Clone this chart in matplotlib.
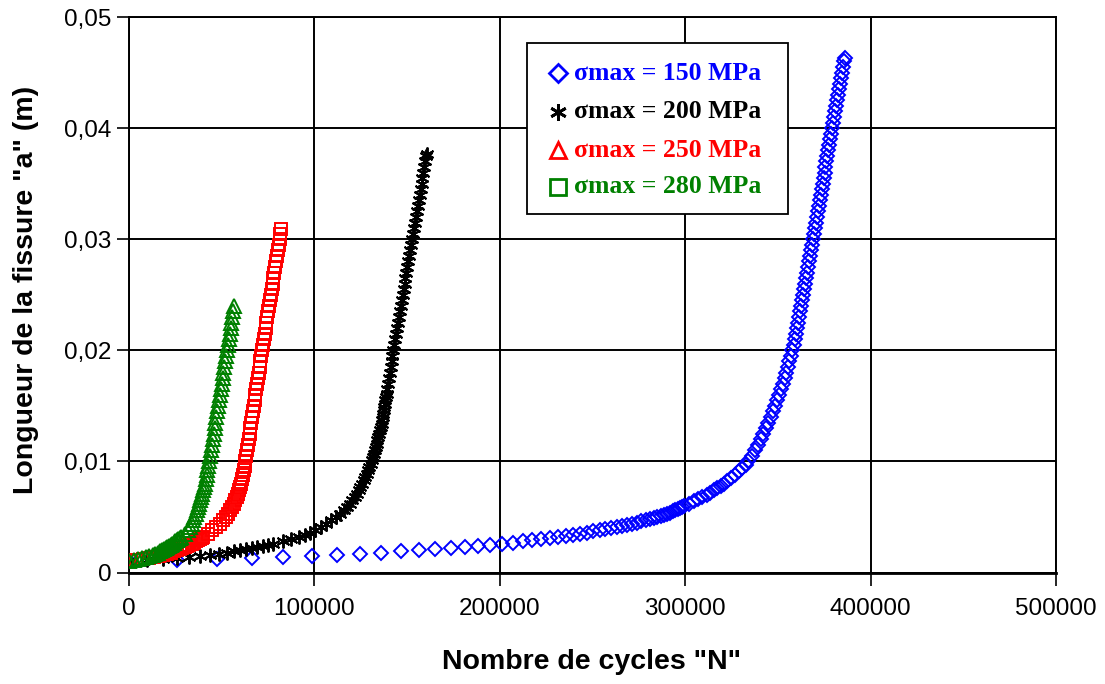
import matplotlib
matplotlib.use("Agg")
import matplotlib.pyplot as plt
import matplotlib.patches as patches
from matplotlib.ticker import FuncFormatter

# crack length a (m) vs number of cycles N
a_150 = [0.0010, 0.0011, 0.0012, 0.0013, 0.0014, 0.0015, 0.0016, 0.0017, 0.0018, 0.0019,
         0.0020, 0.0021, 0.0022, 0.0023, 0.0024, 0.0025, 0.0026, 0.0027, 0.0028, 0.0029,
         0.0030, 0.0031, 0.0032, 0.0033, 0.0034, 0.0035, 0.0036, 0.0037, 0.0038, 0.0039,
         0.0040, 0.0041, 0.0042, 0.0043, 0.0044, 0.0045, 0.0046, 0.0047, 0.0048, 0.0049,
         0.0050, 0.0051, 0.0052, 0.0053, 0.0054, 0.0055, 0.0056, 0.0057, 0.0058, 0.0059,
         0.0060, 0.0062, 0.0064, 0.0066, 0.0068, 0.0070, 0.0072, 0.0074, 0.0076, 0.0078,
         0.0080, 0.0082, 0.0085, 0.0088, 0.0091, 0.0094, 0.0097, 0.0100,
         0.0105, 0.0110, 0.0115, 0.0120, 0.0125, 0.0130, 0.0135, 0.0140, 0.0145, 0.0150,
         0.0155, 0.0160, 0.0165, 0.0170, 0.0175, 0.0180, 0.0185, 0.0190, 0.0195, 0.0200,
         0.0205, 0.0210, 0.0215, 0.0220, 0.0225, 0.0230, 0.0235, 0.0240, 0.0245, 0.0250,
         0.0255, 0.0260, 0.0265, 0.0270, 0.0275, 0.0280, 0.0285, 0.0290, 0.0295, 0.0300,
         0.0305, 0.0310, 0.0315, 0.0320, 0.0325, 0.0330, 0.0335, 0.0340, 0.0345, 0.0350,
         0.0355, 0.0360, 0.0365, 0.0370, 0.0375, 0.0380, 0.0385, 0.0390, 0.0395, 0.0400,
         0.0405, 0.0410, 0.0415, 0.0420, 0.0425, 0.0430, 0.0435, 0.0440, 0.0445, 0.0450,
         0.0455, 0.0460, 0.0463]
n_150 = [0, 26000, 47500, 66500, 83500, 98800, 112300, 124800, 136300, 146800,
         156500, 165400, 173600, 181300, 188400, 195000, 201200, 207000, 212500, 217700,
         222600, 227200, 231600, 235800, 239800, 243500, 247100, 250550, 253900, 257100,
         260200, 263200, 266050, 268800, 271450, 274000, 276450, 278800, 281050, 283150,
         285100, 286950, 288700, 290350, 291900, 293350, 294700, 296000, 297250, 298450,
         299600, 302300, 304800, 307150, 309400, 311600, 313650, 315600, 317450, 319200,
         320900, 322550, 324900, 327100, 329100, 330900, 332600, 334200,
         336000, 337700, 339300, 340800, 342200, 343600, 344900, 346200, 347400, 348600,
         349700, 350800, 351800, 352800, 353700, 354600, 355500, 356300, 357100, 357900,
         358500, 359100, 359700, 360300, 360900, 361400, 362000, 362600, 363100, 363700,
         364200, 364800, 365400, 365900, 366500, 367000, 367600, 368100, 368700, 369200,
         369700, 370200, 370700, 371200, 371700, 372200, 372700, 373200, 373700, 374200,
         374700, 375200, 375700, 376200, 376700, 377200, 377700, 378200, 378700, 379100,
         379700, 380200, 380800, 381300, 381900, 382500, 383000, 383600, 384100, 384700,
         385200, 385800, 386100]

a_200 = [0.0010, 0.0011, 0.0012, 0.0013, 0.0014, 0.0015, 0.0016, 0.0017, 0.0018, 0.0019,
         0.0020, 0.0021, 0.0022, 0.0023, 0.0024, 0.0025, 0.0026, 0.0028, 0.0030, 0.0032,
         0.0034, 0.0036, 0.0038, 0.0041, 0.0044, 0.0047, 0.0050, 0.0053, 0.0056, 0.0059,
         0.0062, 0.0065, 0.0068, 0.0071, 0.0074, 0.0077, 0.0080, 0.0083, 0.0086, 0.0089,
         0.0092, 0.0095, 0.0098, 0.0101, 0.0104, 0.0107, 0.0110, 0.0113, 0.0116, 0.0119,
         0.0122, 0.0125, 0.0128, 0.0131, 0.0134, 0.0137, 0.0140, 0.0143, 0.0146, 0.0149,
         0.0152, 0.0155, 0.0158, 0.0161, 0.0165, 0.0170, 0.0175, 0.0180, 0.0185, 0.0190,
         0.0195, 0.0200, 0.0205, 0.0210, 0.0215, 0.0220, 0.0225, 0.0230, 0.0235, 0.0240,
         0.0245, 0.0250, 0.0255, 0.0260, 0.0265, 0.0270, 0.0275, 0.0280, 0.0285, 0.0290,
         0.0295, 0.0300, 0.0305, 0.0310, 0.0315, 0.0320, 0.0325, 0.0330, 0.0335, 0.0340,
         0.0345, 0.0350, 0.0355, 0.0360, 0.0365, 0.0370, 0.0375, 0.0377]
n_200 = [0, 10000, 18600, 26100, 32700, 38600, 43900, 48700, 52900, 56700,
         60000, 63300, 66450, 69450, 72400, 75250, 78000, 83150, 87700, 91650,
         95050, 97950, 100400, 103700, 106700, 109400, 111850, 114100, 116100, 117850,
         119350, 120700, 121900, 123000, 124050, 125050, 125970, 126830, 127650, 128430,
         129200, 129850, 130470, 131060, 131630, 132180, 132710, 133220, 133720, 134210,
         134690, 135160, 135620, 136020, 136400, 136700, 137000, 137300, 137600, 137900,
         138200, 138500, 138800, 139100, 139500, 139950, 140400, 140850, 141300, 141800,
         142250, 142700, 143200, 143700, 144200, 144700, 145250, 145750, 146250, 146750,
         147250, 147800, 148300, 148800, 149300, 149800, 150300, 150850, 151350, 151850,
         152350, 152850, 153350, 153900, 154400, 154900, 155400, 155900, 156400, 156950,
         157450, 157950, 158450, 158950, 159450, 160000, 160500, 160700]

a_250 = [0.0010, 0.0011, 0.0012, 0.0013, 0.0014, 0.0015, 0.0016, 0.0017, 0.0018, 0.0019,
         0.0020, 0.0021, 0.0022, 0.0023, 0.0024, 0.0025, 0.0026, 0.0027, 0.0028, 0.0029,
         0.0030, 0.0031, 0.0032, 0.0035, 0.0038, 0.0041, 0.0044, 0.0047, 0.0050, 0.0053,
         0.0056, 0.0059, 0.0062, 0.0065, 0.0068, 0.0071, 0.0074, 0.0077, 0.0080, 0.0084,
         0.0088, 0.0092, 0.0096, 0.0100, 0.0105, 0.0110, 0.0115, 0.0120, 0.0125, 0.0130,
         0.0135, 0.0140, 0.0145, 0.0150, 0.0155, 0.0160, 0.0165, 0.0170, 0.0175, 0.0180,
         0.0185, 0.0190, 0.0195, 0.0200, 0.0205, 0.0210, 0.0215, 0.0220, 0.0225, 0.0230,
         0.0235, 0.0240, 0.0245, 0.0250, 0.0255, 0.0260, 0.0265, 0.0270, 0.0275, 0.0280,
         0.0285, 0.0290, 0.0295, 0.0300, 0.0305, 0.0309]
n_250 = [0, 4000, 7600, 10800, 13700, 16300, 18700, 20900, 22900, 24600,
         26100, 27550, 28950, 30300, 31600, 32850, 34050, 35200, 36300, 37350,
         38350, 39350, 40300, 42900, 45200, 47300, 49200, 50900, 52400, 53700,
         54900, 55900, 56800, 57600, 58300, 59000, 59600, 60100, 60600, 61200,
         61700, 62200, 62600, 63000, 63450, 63900, 64350, 64800, 65250, 65700,
         66150, 66600, 67050, 67500, 67950, 68400, 68850, 69300, 69750, 70200,
         70650, 71100, 71550, 72000, 72450, 72950, 73400, 73900, 74350, 74800,
         75300, 75750, 76250, 76700, 77150, 77650, 78100, 78600, 79050, 79500,
         80000, 80450, 80950, 81400, 81850, 82250]

a_280 = [0.0010, 0.0011, 0.0012, 0.0013, 0.0014, 0.0015, 0.0016, 0.0017, 0.0018, 0.0019,
         0.0020, 0.0021, 0.0022, 0.0023, 0.0024, 0.0025, 0.0026, 0.0027, 0.0028, 0.0029,
         0.0030, 0.0031, 0.0032, 0.0035, 0.0038, 0.0041, 0.0044, 0.0047, 0.0050, 0.0053,
         0.0056, 0.0059, 0.0062, 0.0065, 0.0068, 0.0071, 0.0074, 0.0077, 0.0080, 0.0084,
         0.0088, 0.0092, 0.0096, 0.0100, 0.0105, 0.0110, 0.0115, 0.0120, 0.0125, 0.0130,
         0.0135, 0.0140, 0.0145, 0.0150, 0.0155, 0.0160, 0.0165, 0.0170, 0.0175, 0.0180,
         0.0185, 0.0190, 0.0195, 0.0200, 0.0205, 0.0210, 0.0215, 0.0220, 0.0225, 0.0230,
         0.0235, 0.0240]
n_280 = [0, 2800, 5300, 7500, 9500, 11300, 13000, 14500, 15800, 17000,
         18000, 19000, 19970, 20900, 21800, 22700, 23550, 24400, 25250, 26050,
         26850, 27600, 28350, 30350, 31850, 33050, 34050, 34800, 35500, 36150,
         36800, 37420, 38000, 38560, 39100, 39600, 40080, 40550, 41000, 41530,
         42050, 42560, 43060, 43550, 44030, 44500, 44980, 45450, 45930, 46400,
         46880, 47350, 47830, 48300, 48780, 49250, 49730, 50200, 50680, 51150,
         51630, 52100, 52580, 53050, 53540, 54030, 54520, 55010, 55500, 56000,
         56500, 57000]

legend_labels = ["\u03c3max = 150 MPa", "\u03c3max = 200 MPa",
                 "\u03c3max = 250 MPa", "\u03c3max = 280 MPa"]

x_ticks = [0, 100000, 200000, 300000, 400000, 500000]
y_ticks = [0, 0.01, 0.02, 0.03, 0.04, 0.05]

blue = "#0000ff"
red = "#ff0000"
green = "#008000"

fig = plt.figure(figsize=(11.05, 6.84), dpi=100)
ax = fig.add_axes([0.1163, 0.163, 0.8394, 0.8121])

ax.plot(n_150, a_150, linestyle="none", marker="D", markersize=7,
        markerfacecolor="none", markeredgecolor=blue, markeredgewidth=1.4, zorder=3)
ax.plot(n_200, a_200, linestyle="none", marker=(6, 2, 0), markersize=10,
        markeredgecolor="black", markeredgewidth=1.4, color="black", zorder=3)
ax.plot(n_250, a_250, linestyle="none", marker="s", markersize=8.5,
        markerfacecolor="none", markeredgecolor=red, markeredgewidth=1.4, zorder=3)
ax.plot(n_280, a_280, linestyle="none", marker="^", markersize=9.5,
        markerfacecolor="none", markeredgecolor=green, markeredgewidth=1.4, zorder=3)

ax.set_xlim(0, 500000)
ax.set_ylim(0, 0.05)
ax.set_xticks(x_ticks)
ax.set_yticks(y_ticks)
ax.xaxis.set_major_formatter(FuncFormatter(lambda v, p: f"{int(v)}"))
ax.yaxis.set_major_formatter(
    FuncFormatter(lambda v, p: "0" if v == 0 else f"{v:.2f}".replace(".", ",")))

ax.grid(True, color="black", linewidth=1.4)
ax.set_axisbelow(True)
for s in ax.spines.values():
    s.set_color("black")
    s.set_linewidth(1.4)
ax.spines["bottom"].set_linewidth(2.0)

ax.tick_params(axis="x", direction="out", length=9, width=1.2, pad=9,
               labelsize=17.5, colors="black")
ax.tick_params(axis="y", direction="out", length=8.5, width=1.2, pad=4,
               labelsize=17.5, colors="black")
for lab in ax.get_xticklabels() + ax.get_yticklabels():
    lab.set_family("Liberation Sans")

ax.set_xlabel('Nombre de cycles "N"', fontsize=20.5, fontweight="bold",
              family="Liberation Sans")
ax.set_ylabel('Longueur de la fissure "a" (m)', fontsize=20.5, fontweight="bold",
              family="Liberation Sans")
ax.xaxis.set_label_coords(0.4987, -0.161)
ax.xaxis.label.set_va("center")
ax.yaxis.set_label_coords(-0.1105, 0.5086)
ax.yaxis.label.set_va("center")

# legend box drawn like the text box of the original sheet
box = patches.Rectangle((0.430, 0.6448), 0.2814, 0.3089, transform=ax.transAxes,
                        facecolor="white", edgecolor="black", linewidth=1.3, zorder=5)
ax.add_patch(box)
rows_y = [0.8987, 0.8296, 0.7606, 0.6946]
leg_colors = [blue, "black", red, green]
leg_markers = ["D", (6, 2, 0), "^", "s"]
leg_sizes = [9, 12, 11, 11]
for yy, lab, col, mk, ms in zip(rows_y, legend_labels, leg_colors, leg_markers, leg_sizes):
    ax.plot([0.4631], [yy], transform=ax.transAxes, linestyle="none", marker=mk,
            markersize=ms, markerfacecolor="none", markeredgecolor=col,
            markeredgewidth=2.0, clip_on=False, zorder=6)
    ax.text(0.4805, yy, lab, transform=ax.transAxes, ha="left", va="center",
            fontsize=18.5, fontweight="bold", family="Liberation Serif",
            color=col, zorder=6)

fig.savefig("out.png", dpi=100)
